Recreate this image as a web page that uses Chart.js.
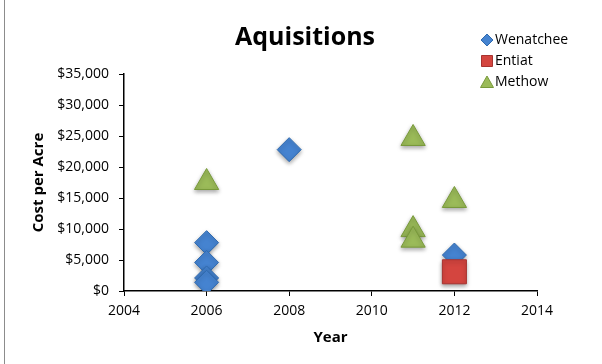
<!DOCTYPE html>
<html>
<head>
<meta charset="utf-8">
<script src="https://cdn.jsdelivr.net/npm/chart.js@4"></script>
<style>
  html, body { margin: 0; padding: 0; background: #fff; }
  #wrap { width: 602px; height: 364px; position: relative; }
</style>
</head>
<body>
<div id="wrap"><canvas id="aqChart"></canvas></div>
<script>
  // Values
  const wenatcheeYears = [2006, 2006, 2006, 2006, 2008, 2012];
  const wenatcheeCost = [7800, 4600, 2100, 1400, 22800, 5800];
  const entiatYears = [2012];
  const entiatCost = [3100];
  const methowYears = [2006, 2011, 2011, 2011, 2012];
  const methowCost = [17500, 24600, 9900, 8200, 14600];
  const yearTicks = [2004, 2006, 2008, 2010, 2012, 2014];
  const costTicks = [0, 5000, 10000, 15000, 20000, 25000, 30000, 35000];
  const chartTitle = 'Aquisitions';

  const fontFamily = '"Open Sans", Lato, sans-serif';

  function toPoints(xs, ys) {
    return xs.map((x, i) => ({ x: x, y: ys[i] }));
  }

  // shadow under the markers, like the bevelled excel markers
  const markerShadow = {
    id: 'markerShadow',
    beforeDatasetsDraw(chart) {
      const ctx = chart.ctx;
      ctx.save();
      ctx.shadowColor = 'rgba(0,0,0,0.35)';
      ctx.shadowBlur = 4;
      ctx.shadowOffsetY = 2;
    },
    afterDatasetsDraw(chart) {
      chart.ctx.restore();
    }
  };

  // title, legend (top right, over the plot) and the outer border
  const decorations = {
    id: 'decorations',
    afterDraw(chart) {
      const ctx = chart.ctx;
      ctx.save();
      ctx.fillStyle = '#000';
      ctx.font = 'bold 25px ' + fontFamily;
      ctx.textAlign = 'center';
      ctx.textBaseline = 'middle';
      ctx.fillText(chartTitle, 305, 38);

      ctx.font = '14px ' + fontFamily;
      ctx.textAlign = 'left';
      chart.data.datasets.forEach((ds, i) => {
        const y = 40 + i * 21;
        const x = 487;
        ctx.fillStyle = ds.backgroundColor;
        ctx.strokeStyle = ds.borderColor;
        ctx.lineWidth = 1;
        ctx.beginPath();
        if (ds.pointStyle === 'rectRot') {
          ctx.moveTo(x, y - 6); ctx.lineTo(x + 6, y); ctx.lineTo(x, y + 6); ctx.lineTo(x - 6, y);
        } else if (ds.pointStyle === 'rect') {
          ctx.rect(x - 5.5, y - 5.5, 11, 11);
        } else {
          ctx.moveTo(x, y - 6); ctx.lineTo(x + 6.5, y + 5.5); ctx.lineTo(x - 6.5, y + 5.5);
        }
        ctx.closePath();
        ctx.fill();
        ctx.stroke();
        ctx.fillStyle = '#000';
        ctx.fillText(ds.label, 495, y);
      });

      ctx.strokeStyle = '#8c8c8c';
      ctx.lineWidth = 1;
      ctx.strokeRect(4.5, -5, 700, 400);
      ctx.restore();
    }
  };

  new Chart(document.getElementById('aqChart'), {
    type: 'scatter',
    data: {
      datasets: [{
        label: 'Wenatchee',
        data: toPoints(wenatcheeYears, wenatcheeCost),
        pointStyle: 'rectRot',
        pointRadius: 12,
        backgroundColor: '#4583d0',
        borderColor: '#2f6aaf',
        borderWidth: 1,
        order: 2
      }, {
        label: 'Entiat',
        data: toPoints(entiatYears, entiatCost),
        pointStyle: 'rect',
        pointRadius: 17,
        backgroundColor: '#d4453f',
        borderColor: '#a8332f',
        borderWidth: 1,
        order: 0
      }, {
        label: 'Methow',
        data: toPoints(methowYears, methowCost),
        pointStyle: 'triangle',
        pointRadius: 14,
        backgroundColor: '#9bbb59',
        borderColor: '#789a3a',
        borderWidth: 1,
        order: 1
      }]
    },
    options: {
      responsive: true,
      maintainAspectRatio: false,
      animation: false,
      layout: { padding: { left: 26, right: 65, top: 74, bottom: 13 } },
      plugins: {
        legend: { display: false },
        tooltip: { enabled: false },
        title: { display: false }
      },
      scales: {
        x: {
          type: 'linear',
          min: 2004,
          max: 2014,
          afterBuildTicks: s => { s.ticks = yearTicks.map(v => ({ value: v })); },
          afterFit: s => { s.height = 60; },
          ticks: {
            color: '#000',
            font: { family: fontFamily, size: 14 },
            padding: 7,
            maxRotation: 0,
            callback: v => String(v)
          },
          grid: { drawOnChartArea: false, drawTicks: true, tickLength: 5, color: '#000' },
          border: { color: '#000', width: 1.5 },
          title: {
            display: true,
            text: 'Year',
            color: '#000',
            font: { family: fontFamily, size: 15, weight: 'bold' },
            padding: { top: 4, bottom: 4 }
          }
        },
        y: {
          type: 'linear',
          min: 0,
          max: 35000,
          afterBuildTicks: s => { s.ticks = costTicks.map(v => ({ value: v })); },
          afterFit: s => { s.width = 98; },
          ticks: {
            color: '#000',
            font: { family: fontFamily, size: 14 },
            padding: 10,
            callback: v => '$' + v.toLocaleString('en-US')
          },
          grid: { drawOnChartArea: false, drawTicks: true, tickLength: 5, color: '#000' },
          border: { color: '#000', width: 1.5 },
          title: {
            display: true,
            text: 'Cost per Acre',
            color: '#000',
            font: { family: fontFamily, size: 15, weight: 'bold' },
            padding: { top: 4, bottom: 4 }
          }
        }
      }
    },
    plugins: [markerShadow, decorations]
  });
</script>
</body>
</html>
